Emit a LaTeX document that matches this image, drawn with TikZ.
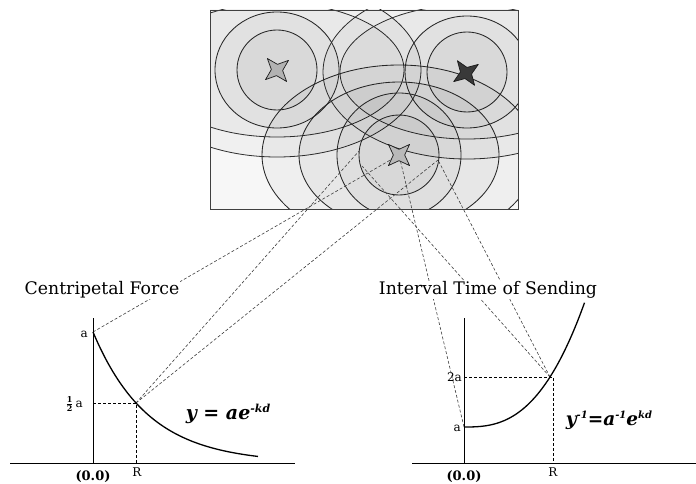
\documentclass[tikz,border=0pt]{standalone}
\usepackage{fontspec}
\setmainfont{DejaVu Serif}
\newcommand\drawstar[4]{%
  \begin{scope}[shift={(#1,#2)},rotate=#3]
    \filldraw[fill=#4,draw=gray!20!black,line width=0.7pt,line join=round]
      (15,0)--(4,4)--(0,15)--(-4,4)--(-15,0)--(-4,-4)--(0,-15)--(4,-4)--cycle;
  \end{scope}}
\begin{document}
\begin{tikzpicture}[x=1pt,y=-1pt,
  ring/.style={draw=gray!30!black,line width=0.85pt,fill=black,fill opacity=0.032},
  faint/.style={draw=gray!35!black,line width=0.8pt,fill=black,fill opacity=0.028},
  link/.style={draw=gray!50!black,line width=0.6pt,dash pattern=on 3pt off 2pt},
  guide/.style={draw=black,line width=0.5pt,dash pattern=on 3pt off 2pt},
  axis/.style={draw=black,line width=0.6pt},
  curve/.style={draw=black,line width=1.3pt},
  lab/.style={font=\fontsize{12}{14}\selectfont,inner sep=1pt},
  title/.style={font=\fontsize{17.3}{20}\selectfont,fill=white,inner sep=1pt},
  eq/.style={font=\fontsize{19}{22}\selectfont\bfseries\itshape,inner sep=0pt}]
\useasboundingbox (0,0) rectangle (696,484);
\fill[white] (0,0) rectangle (696,484);

% --- map with transmitters
\fill[gray!6] (210,10) rectangle (518,209);
\begin{scope}
  \clip (210,10) rectangle (518,209);
  \path[faint] (277,70) ellipse [x radius=144pt, y radius=87pt];
  \path[faint] (277,70) ellipse [x radius=127pt, y radius=67pt];
  \path[faint] (467,72) ellipse [x radius=144pt, y radius=87pt];
  \path[faint] (467,72) ellipse [x radius=127pt, y radius=67pt];
  \path[ring] (277,70) ellipse [x radius=62pt, y radius=58pt];
  \path[ring] (277,70) circle [radius=40pt];
  \path[ring] (467,72) ellipse [x radius=62pt, y radius=56pt];
  \path[ring] (467,72) circle [radius=40pt];
  \path[ring] (399,155) ellipse [x radius=137pt, y radius=90pt];
  \path[ring] (399,155) ellipse [x radius=100pt, y radius=73pt];
  \path[ring] (399,155) circle [radius=62pt];
  \path[ring] (399,155) circle [radius=40pt];
\end{scope}
\draw[gray!50!black,line width=0.8pt] (210,10) rectangle (518,209);

% --- points
\coordinate (S) at (399,155);
\coordinate (P) at (438,160);
\coordinate (B1) at (359,151);
\coordinate (C1) at (362,166);
\coordinate (A1) at (93,332);
\coordinate (H1) at (136,403);
\coordinate (A2) at (464,427);
\coordinate (T) at (550,377);

% --- dashed connectors
\draw[link] (A1) -- (S);
\draw[link] (H1) -- (B1);
\draw[link] (H1) -- (P);
\draw[link] (A2) -- (S);
\draw[link] (T) -- (C1);
\draw[link] (T) -- (P);

% --- stars
\drawstar{277}{70}{40}{gray!60}
\drawstar{466}{73}{35}{gray!45!black}
\drawstar{399}{155}{45}{gray!55}

% --- left graph
\coordinate (Y1) at (93,318);
\coordinate (O1) at (93,463);
\coordinate (X1a) at (10,463);
\coordinate (X1b) at (295,463);
\draw[axis] (Y1) -- (O1);
\draw[axis] (X1a) -- (X1b);
\draw[curve] plot[domain=0:165,samples=60] ({93+\x},{463-131*exp(-0.01815*\x)});
\coordinate (G1) at (93,403);
\coordinate (R1) at (136,463);
\draw[guide] (G1) -- (H1) -- (R1);
\node[lab,anchor=east] (la1) at (89,334) {a};
\node[lab,anchor=east] (lh1) at (84,404) {$\frac{\mathbf{1}}{\mathbf{2}}$\,a};
\node[lab,font=\fontsize{13}{14}\selectfont\bfseries] (lo1) at (93,477) {(0.0)};
\node[lab] (lr1) at (137,472) {R};
\node[eq] (eq1) at (228,414) {y = ae\raisebox{0.75ex}{\fontsize{11}{11}\selectfont -kd}};
\node[title] (t1) at (102,290) {Centripetal Force};

% --- right graph
\coordinate (Y2) at (464,318);
\coordinate (O2) at (464,463);
\coordinate (X2a) at (412,463);
\coordinate (X2b) at (696,463);
\draw[axis] (Y2) -- (O2);
\draw[axis] (X2a) -- (X2b);
\draw[curve] plot[domain=0.01:120.5,samples=60] ({464+\x},{427-50*(\x/86)^2.7});
\coordinate (G2) at (464,377);
\coordinate (R2) at (553,463);
\coordinate (T2) at (553,377);
\draw[guide] (G2) -- (T2) -- (R2);
\node[lab,anchor=east] (la2) at (462,428) {a};
\node[lab,anchor=east] (l2a) at (463,377) {2a};
\node[lab,font=\fontsize{13}{14}\selectfont\bfseries] (lo2) at (464,477) {(0.0)};
\node[lab] (lr2) at (553,472) {R};
\node[eq,font=\fontsize{18.5}{22}\selectfont\bfseries\itshape] (eq2) at (609,420) {y\raisebox{0.75ex}{\fontsize{10}{10}\selectfont -1}=a\raisebox{0.75ex}{\fontsize{10}{10}\selectfont -1}e\raisebox{0.75ex}{\fontsize{10}{10}\selectfont kd}};
\node[title] (t2) at (488,290) {Interval Time of Sending};
\end{tikzpicture}
\end{document}
